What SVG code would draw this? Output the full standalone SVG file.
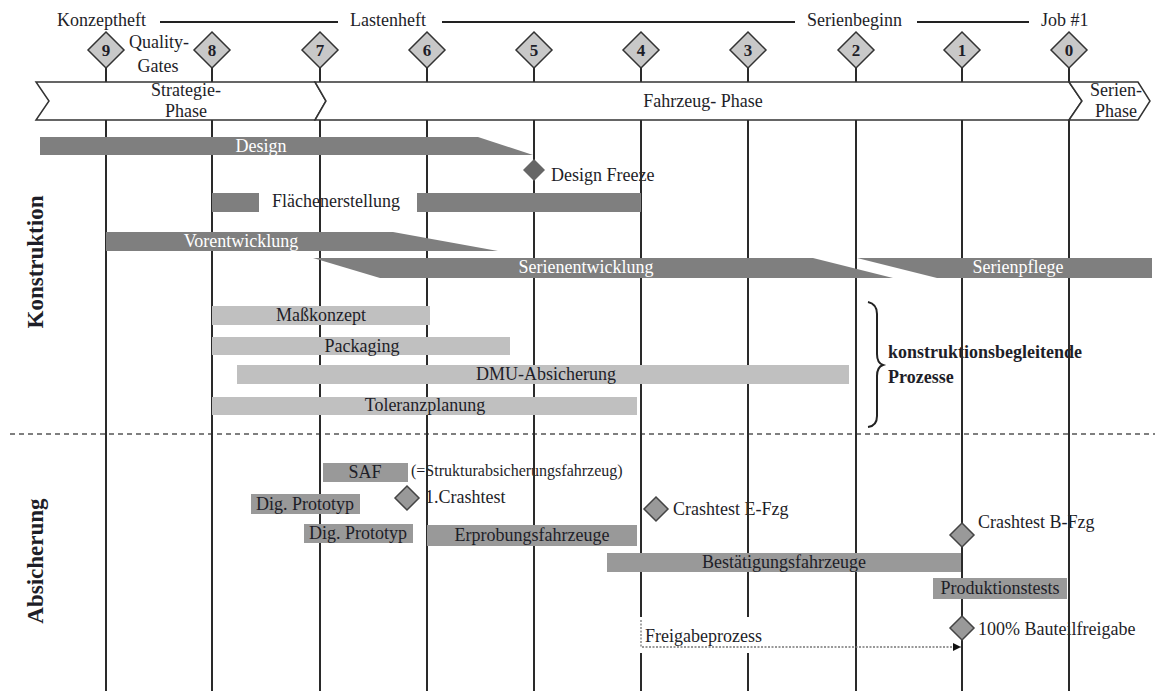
<svg xmlns="http://www.w3.org/2000/svg" width="1155" height="691" viewBox="0 0 1155 691">
  <defs>
    <style>
      text { font-family: "Liberation Serif", "Times New Roman", serif; fill: #1e1e28; font-size: 18px; }
      .c { text-anchor: middle; }
      .w { fill: #ffffff; }
      .b { font-weight: bold; }
      .num { font-weight: bold; font-size: 17px; text-anchor: middle; }
      .side { font-weight: bold; font-size: 23px; text-anchor: middle; }
      .small { font-size: 16px; }
      .vline { stroke: #2a2a2a; stroke-width: 2; fill: none; }
      .hline { stroke: #222; stroke-width: 2; }
      .phase { fill: #ffffff; stroke: #333; stroke-width: 1.5; }
      .gate { fill: #c8c8c8; stroke: #333; stroke-width: 1.5; }
      .dark { fill: #7f7f7f; }
      .light { fill: #c0c0c0; }
      .mid { fill: #999999; }
      .ms { fill: #999999; stroke: #444; stroke-width: 1.5; }
    </style>
    <marker id="arrow" viewBox="0 0 10 10" refX="10" refY="5" markerWidth="8" markerHeight="8" orient="auto" markerUnits="userSpaceOnUse">
      <path d="M0,0 L10,5 L0,10 Z" fill="#111"/>
    </marker>
  </defs>

  <rect width="1155" height="691" fill="#ffffff"/>

  <!-- milestone documents along the top -->
  <g id="documents">
    <text x="57" y="26">Konzeptheft</text>
    <line class="hline" x1="160" y1="22" x2="338" y2="22"/>
    <text x="350" y="26">Lastenheft</text>
    <line class="hline" x1="442" y1="22" x2="795" y2="22"/>
    <text x="807" y="26">Serienbeginn</text>
    <line class="hline" x1="917" y1="22" x2="1029" y2="22"/>
    <text x="1041" y="26">Job #1</text>
    <text class="c" x="159" y="48">Quality-</text>
    <text class="c" x="158" y="72">Gates</text>
  </g>

  <!-- labels lying under the gate lines -->
  <g id="free-labels">
    <text x="551" y="181">Design Freeze</text>
    <text x="272" y="207">Flächenerstellung</text>
    <text class="b" x="888" y="358">konstruktionsbegleitende</text>
    <text class="b" x="888" y="383">Prozesse</text>
    <text class="small" x="411" y="476">(=Strukturabsicherungsfahrzeug)</text>
    <text x="425" y="503">1.Crashtest</text>
    <text x="673" y="515">Crashtest E-Fzg</text>
    <text x="978" y="528">Crashtest B-Fzg</text>
    <text x="978" y="635">100% Bauteilfreigabe</text>
  </g>

  <!-- section labels -->
  <g id="section-konstruktion">
    <text class="side" transform="translate(43,262) rotate(-90)">Konstruktion</text>
  </g>
  <g id="section-absicherung">
    <text class="side" transform="translate(43,561) rotate(-90)">Absicherung</text>
  </g>
  <line x1="10" y1="434" x2="1155" y2="434" stroke="#555" stroke-width="1.3" stroke-dasharray="5,4"/>

  <!-- gate time lines -->
  <g id="connectors">
    <line class="vline" x1="106" y1="66" x2="106" y2="691"/>
    <line class="vline" x1="212" y1="66" x2="212" y2="691"/>
    <line class="vline" x1="320" y1="66" x2="320" y2="691"/>
    <line class="vline" x1="427" y1="66" x2="427" y2="691"/>
    <line class="vline" x1="534" y1="66" x2="534" y2="691"/>
    <line class="vline" x1="641" y1="66" x2="641" y2="691"/>
    <line class="vline" x1="748" y1="66" x2="748" y2="691"/>
    <line class="vline" x1="856" y1="66" x2="856" y2="691"/>
    <line class="vline" x1="962" y1="66" x2="962" y2="691" stroke-width="2.5"/>
    <line class="vline" x1="1069" y1="66" x2="1069" y2="691"/>
  </g>

  <!-- phase band -->
  <g id="phase-strategie">
    <polygon class="phase" points="36,82 315,82 326,101 315,120 36,120 49,101"/>
    <text class="c" x="186" y="96">Strategie-</text>
    <text class="c" x="186" y="117">Phase</text>
  </g>
  <g id="phase-fahrzeug">
    <polygon class="phase" points="315,82 1069,82 1082,101 1069,120 315,120 326,101"/>
    <text class="c" x="703" y="107">Fahrzeug- Phase</text>
  </g>
  <g id="phase-serie">
    <polygon class="phase" points="1069,82 1138,82 1150,101 1138,120 1069,120 1082,101"/>
    <text class="c" x="1116" y="96">Serien-</text>
    <text class="c" x="1116" y="117">Phase</text>
  </g>

  <!-- quality gates -->
  <g id="gate-9"><polygon class="gate" points="106,32 124,50 106,68 88,50"/><text class="num" x="106" y="56">9</text></g>
  <g id="gate-8"><polygon class="gate" points="212,32 230,50 212,68 194,50"/><text class="num" x="212" y="56">8</text></g>
  <g id="gate-7"><polygon class="gate" points="320,32 338,50 320,68 302,50"/><text class="num" x="320" y="56">7</text></g>
  <g id="gate-6"><polygon class="gate" points="427,32 445,50 427,68 409,50"/><text class="num" x="427" y="56">6</text></g>
  <g id="gate-5"><polygon class="gate" points="534,32 552,50 534,68 516,50"/><text class="num" x="534" y="56">5</text></g>
  <g id="gate-4"><polygon class="gate" points="641,32 659,50 641,68 623,50"/><text class="num" x="641" y="56">4</text></g>
  <g id="gate-3"><polygon class="gate" points="748,32 766,50 748,68 730,50"/><text class="num" x="748" y="56">3</text></g>
  <g id="gate-2"><polygon class="gate" points="856,32 874,50 856,68 838,50"/><text class="num" x="856" y="56">2</text></g>
  <g id="gate-1"><polygon class="gate" points="962,32 980,50 962,68 944,50"/><text class="num" x="962" y="56">1</text></g>
  <g id="gate-0"><polygon class="gate" points="1069,32 1087,50 1069,68 1051,50"/><text class="num" x="1069" y="56">0</text></g>

  <!-- Konstruktion activities -->
  <g id="design">
    <polygon class="dark" points="40,137 478,137 533,155 40,155"/>
    <text class="c w" x="261" y="152">Design</text>
  </g>
  <g id="design-freeze">
    <polygon fill="#666" points="534,159 545,170 534,181 523,170"/>
  </g>
  <g id="flaechenerstellung">
    <rect class="dark" x="212" y="193" width="47" height="19"/>
    <rect class="dark" x="417" y="193" width="224" height="19"/>
  </g>
  <g id="vorentwicklung">
    <polygon class="dark" points="106,232 393,232 498,251 106,251"/>
    <text class="c w" x="241" y="247">Vorentwicklung</text>
  </g>
  <g id="serienentwicklung">
    <polygon class="dark" points="313,258 813,258 893,278 380,278"/>
    <text class="c w" x="586" y="273">Serienentwicklung</text>
  </g>
  <g id="serienpflege">
    <polygon class="dark" points="857,258 1152,258 1152,278 937,278"/>
    <text class="c w" x="1018" y="273">Serienpflege</text>
  </g>
  <g id="masskonzept">
    <rect class="light" x="212" y="306" width="218" height="19"/>
    <text class="c" x="321" y="321">Maßkonzept</text>
  </g>
  <g id="packaging">
    <rect class="light" x="212" y="337" width="298" height="18"/>
    <text class="c" x="362" y="352">Packaging</text>
  </g>
  <g id="dmu-absicherung">
    <rect class="light" x="237" y="365" width="612" height="19"/>
    <text class="c" x="546" y="380">DMU-Absicherung</text>
  </g>
  <g id="toleranzplanung">
    <rect class="light" x="212" y="397" width="425" height="18"/>
    <text class="c" x="425" y="411">Toleranzplanung</text>
  </g>
  <g id="brace">
    <path d="M868,302 Q877,304 877,314 L877,354 Q877,363 883,365 Q877,367 877,376 L877,416 Q877,426 868,427" fill="none" stroke="#222" stroke-width="2"/>
  </g>

  <!-- Absicherung activities -->
  <g id="saf">
    <rect class="mid" x="323" y="463" width="85" height="19"/>
    <text class="c" x="365" y="478">SAF</text>
  </g>
  <g id="crashtest-1">
    <polygon class="ms" points="407,486 419,498 407,510 395,498"/>
  </g>
  <g id="dig-prototyp-1">
    <rect class="mid" x="251" y="494" width="109" height="20"/>
    <text class="c" x="305" y="510">Dig. Prototyp</text>
  </g>
  <g id="dig-prototyp-2">
    <rect class="mid" x="304" y="524" width="109" height="19"/>
    <text class="c" x="358" y="539">Dig. Prototyp</text>
  </g>
  <g id="erprobungsfahrzeuge">
    <rect class="mid" x="427" y="525" width="210" height="21"/>
    <text class="c" x="532" y="541">Erprobungsfahrzeuge</text>
  </g>
  <g id="crashtest-e">
    <polygon class="ms" points="656,497 668,509 656,521 644,509"/>
  </g>
  <g id="bestaetigungsfahrzeuge">
    <rect class="mid" x="607" y="553" width="354" height="19"/>
    <text class="c" x="784" y="568">Bestätigungsfahrzeuge</text>
  </g>
  <g id="crashtest-b">
    <polygon class="ms" points="962,523 974,535 962,547 950,535"/>
  </g>
  <g id="produktionstests">
    <rect class="mid" x="933" y="578" width="134" height="21"/>
    <text class="c" x="1000" y="594">Produktionstests</text>
  </g>
  <g id="bauteilfreigabe">
    <polygon class="ms" points="962,616 974,628 962,640 950,628"/>
  </g>
  <g id="freigabeprozess">
    <rect x="636" y="617" width="152" height="36" fill="#ffffff"/>
    <text x="645" y="642">Freigabeprozess</text>
    <path d="M641,620 V647 H961" fill="none" stroke="#777" stroke-width="1.3" stroke-dasharray="2,1.5" marker-end="url(#arrow)"/>
  </g>
</svg>
